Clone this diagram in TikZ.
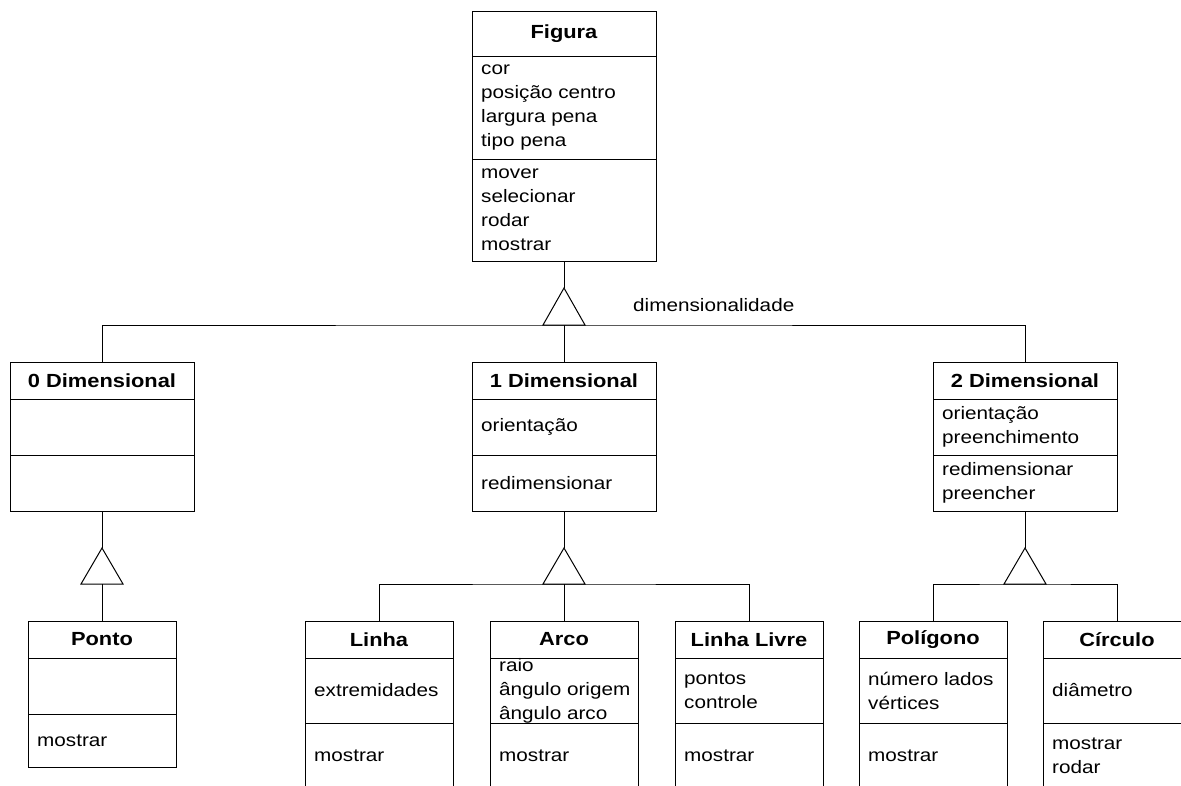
\documentclass[tikz,border=0pt]{standalone}
\usepackage{fontspec}
\setmainfont{Liberation Sans}[FakeStretch=1.15]
\usetikzlibrary{positioning}

\tikzset{
	box/.style={draw, line width=1pt, inner sep=0pt, outer sep=0pt},
	big/.style={minimum width=184},
	small/.style={minimum width=148},
	ttl/.style={box, anchor=north, font=\bfseries\fontsize{19}{24}\selectfont},
	cmp/.style={box, below=0pt of #1},
	txt/.style={font=\fontsize{18}{24}\selectfont, align=left, inner sep=0pt, anchor=west},
	gen/.style={line width=1pt},
}

\begin{document}
\begin{tikzpicture}[x=1pt, y=-1pt]
	\useasboundingbox (0,0) rectangle (1181,785);
	\clip (0,0) rectangle (1181,785);
	% Figura
	\node[ttl, big, minimum height=45] (fig-t) at (564,11) {Figura};
	\node[cmp=fig-t, big, minimum height=103] (fig-a) {};
	\node[cmp=fig-a, big, minimum height=102] (fig-o) {};
	\node[txt] (fig-at) at ([xshift=9pt]fig-a.west) {cor\\posição centro\\largura pena\\tipo pena};
	\node[txt] (fig-ot) at ([xshift=9pt]fig-o.west) {mover\\selecionar\\rodar\\mostrar};
	% dimensional classes
	\node[ttl, big, minimum height=37] (d0-t) at (102,362) {0 Dimensional};
	\node[cmp=d0-t, big, minimum height=56] (d0-a) {};
	\node[cmp=d0-a, big, minimum height=56] (d0-o) {};
	\node[ttl, big, minimum height=37] (d1-t) at (564,362) {1 Dimensional};
	\node[cmp=d1-t, big, minimum height=56] (d1-a) {};
	\node[cmp=d1-a, big, minimum height=56] (d1-o) {};
	\node[txt] (d1-at) at ([xshift=9pt]d1-a.west) {orientação};
	\node[txt] (d1-ot) at ([xshift=9pt]d1-o.west) {redimensionar};
	\node[ttl, big, minimum height=37] (d2-t) at (1025,362) {2 Dimensional};
	\node[cmp=d2-t, big, minimum height=56] (d2-a) {};
	\node[cmp=d2-a, big, minimum height=56] (d2-o) {};
	\node[txt] (d2-at) at ([xshift=9pt]d2-a.west) {orientação\\preenchimento};
	\node[txt] (d2-ot) at ([xshift=9pt]d2-o.west) {redimensionar\\preencher};
	% leaf classes
	\node[ttl, small, minimum height=37] (pto-t) at (102,621) {Ponto};
	\node[cmp=pto-t, small, minimum height=56] (pto-a) {};
	\node[cmp=pto-a, small, minimum height=53] (pto-o) {};
	\node[txt] (pto-ot) at ([xshift=9pt]pto-o.west) {mostrar};
	\node[ttl, small, minimum height=37] (lin-t) at (379,621) {Linha};
	\node[cmp=lin-t, small, minimum height=65] (lin-a) {};
	\node[cmp=lin-a, small, minimum height=65] (lin-o) {};
	\node[txt] (lin-at) at ([xshift=9pt]lin-a.west) {extremidades};
	\node[txt] (lin-ot) at ([xshift=9pt]lin-o.west) {mostrar};
	\node[ttl, small, minimum height=37] (arc-t) at (564,621) {Arco};
	\node[cmp=arc-t, small, minimum height=65] (arc-a) {};
	\node[cmp=arc-a, small, minimum height=65] (arc-o) {};
	\node[txt] (arc-at) at ([xshift=9pt]arc-a.west) {raio\\ângulo origem\\ângulo arco};
	\node[txt] (arc-ot) at ([xshift=9pt]arc-o.west) {mostrar};
	\node[ttl, small, minimum height=37] (liv-t) at (749,621) {Linha Livre};
	\node[cmp=liv-t, small, minimum height=65] (liv-a) {};
	\node[cmp=liv-a, small, minimum height=65] (liv-o) {};
	\node[txt] (liv-at) at ([xshift=9pt]liv-a.west) {pontos\\controle};
	\node[txt] (liv-ot) at ([xshift=9pt]liv-o.west) {mostrar};
	\node[ttl, small, minimum height=37] (pol-t) at (933,621) {Polígono};
	\node[cmp=pol-t, small, minimum height=65] (pol-a) {};
	\node[cmp=pol-a, small, minimum height=65] (pol-o) {};
	\node[txt] (pol-at) at ([xshift=9pt]pol-a.west) {número lados\\vértices};
	\node[txt] (pol-ot) at ([xshift=9pt]pol-o.west) {mostrar};
	\node[ttl, small, minimum height=37] (cir-t) at (1117,621) {Círculo};
	\node[cmp=cir-t, small, minimum height=65] (cir-a) {};
	\node[cmp=cir-a, small, minimum height=65] (cir-o) {};
	\node[txt] (cir-at) at ([xshift=9pt]cir-a.west) {diâmetro};
	\node[txt] (cir-ot) at ([xshift=9pt]cir-o.west) {mostrar\\rodar};
	% generalizations
	\coordinate (g1) at (564,288);
	\coordinate (g1b) at (564,325);
	\draw[gen] (fig-o.south) -- (g1);
	\draw[gen] (g1) -- ++(-21,37) -- ++(42,0) -- cycle;
	\draw[gen] (d0-t.north) |- (g1b) -| (d2-t.north);
	\draw[gen] (g1b) -- (d1-t.north);
	\node[txt] (dimlbl) at (633,305) {dimensionalidade};
	\coordinate (g2) at (102,548);
	\coordinate (g2b) at (102,584);
	\draw[gen] (d0-o.south) -- (g2);
	\draw[gen] (g2) -- ++(-21,36) -- ++(42,0) -- cycle;
	\draw[gen] (g2b) -- (pto-t.north);
	\coordinate (g3) at (564,548);
	\coordinate (g3b) at (564,584);
	\draw[gen] (d1-o.south) -- (g3);
	\draw[gen] (g3) -- ++(-21,36) -- ++(42,0) -- cycle;
	\draw[gen] (lin-t.north) |- (g3b) -| (liv-t.north);
	\draw[gen] (g3b) -- (arc-t.north);
	\coordinate (g4) at (1025,548);
	\coordinate (g4b) at (1025,584);
	\draw[gen] (d2-o.south) -- (g4);
	\draw[gen] (g4) -- ++(-21,36) -- ++(42,0) -- cycle;
	\draw[gen] (pol-t.north) |- (g4b) -| (cir-t.north);
\end{tikzpicture}
\end{document}
